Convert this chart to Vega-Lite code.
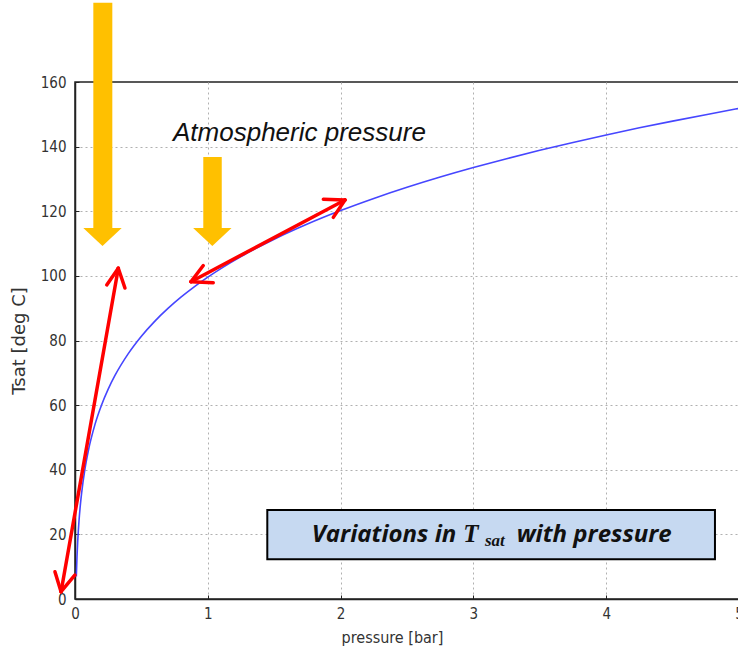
{
  "$schema": "https://vega.github.io/schema/vega-lite/v6.json",
  "width": 664,
  "height": 517,
  "autosize": {"type": "none"},
  "padding": {"left": 75, "top": 82, "right": 0, "bottom": 50},
  "background": "white",
  "config": {
    "view": {"stroke": "#222", "strokeWidth": 1.5},
    "axis": {
      "domainColor": "#222",
      "domainWidth": 1.5,
      "tickColor": "#222",
      "tickSize": -4,
      "tickWidth": 1,
      "gridColor": "#b0b0b0",
      "gridDash": [2, 3],
      "gridWidth": 1,
      "labelFont": "DejaVu Sans Condensed, DejaVu Sans",
      "labelFontSize": 15,
      "labelColor": "#333",
      "titleFontWeight": "normal",
      "titleColor": "#333",
      "labelOverlap": false,
      "labelFlush": false
    },
    "axisX": {"labelPadding": 11, "titleFont": "DejaVu Sans Condensed, DejaVu Sans", "titleFontSize": 16},
    "axisY": {"labelPadding": 13, "titleFont": "DejaVu Sans", "titleFontSize": 18}
  },
  "datasets": {
    "curve": [
      {"p": 0.01, "t": 6.97}, {"p": 0.015, "t": 13.02}, {"p": 0.02, "t": 17.5}, {"p": 0.025, "t": 21.08},
      {"p": 0.03, "t": 24.08}, {"p": 0.04, "t": 28.96}, {"p": 0.05, "t": 32.87}, {"p": 0.075, "t": 40.29},
      {"p": 0.1, "t": 45.81}, {"p": 0.15, "t": 53.97}, {"p": 0.2, "t": 60.06}, {"p": 0.25, "t": 64.96},
      {"p": 0.3, "t": 69.1}, {"p": 0.4, "t": 75.86}, {"p": 0.5, "t": 81.32}, {"p": 0.6, "t": 85.93},
      {"p": 0.7, "t": 89.93}, {"p": 0.8, "t": 93.49}, {"p": 0.9, "t": 96.69}, {"p": 1.0, "t": 99.61},
      {"p": 1.25, "t": 105.97}, {"p": 1.5, "t": 111.35}, {"p": 1.75, "t": 116.04}, {"p": 2.0, "t": 120.21},
      {"p": 2.25, "t": 123.97}, {"p": 2.5, "t": 127.41}, {"p": 2.75, "t": 130.58}, {"p": 3.0, "t": 133.52},
      {"p": 3.25, "t": 136.27}, {"p": 3.5, "t": 138.86}, {"p": 3.75, "t": 141.3}, {"p": 4.0, "t": 143.61},
      {"p": 4.25, "t": 145.82}, {"p": 4.5, "t": 147.9}, {"p": 4.75, "t": 149.89}, {"p": 5.0, "t": 151.83}
    ],
    "arrows": [
      {"p": -0.105, "t": 2.26, "p2": 0.326, "t2": 102.35},
      {"p": 0.326, "t": 102.35, "p2": 0.239, "t2": 97.2},
      {"p": 0.326, "t": 102.35, "p2": 0.376, "t2": 96.25},
      {"p": -0.105, "t": 2.26, "p2": -0.151, "t2": 8.45},
      {"p": -0.105, "t": 2.26, "p2": 0.0, "t2": 7.43},
      {"p": 0.873, "t": 98.2, "p2": 2.033, "t2": 123.5},
      {"p": 0.873, "t": 98.2, "p2": 0.966, "t2": 103.2},
      {"p": 0.873, "t": 98.2, "p2": 1.041, "t2": 97.9},
      {"p": 2.033, "t": 123.5, "p2": 1.87, "t2": 123.7},
      {"p": 2.033, "t": 123.5, "p2": 1.945, "t2": 118.1}
    ],
    "shafts": [
      {"p": 0.138, "p2": 0.281, "t": 184.5, "t2": 114.0},
      {"p": 0.966, "p2": 1.105, "t": 136.8, "t2": 114.0}
    ],
    "heads": [
      {"p": 0.207, "t": 112.04},
      {"p": 1.034, "t": 112.04}
    ],
    "box": [
      {"p": 1.448, "p2": 4.819, "t": 12.29, "t2": 27.55}
    ],
    "labels": [
      {"id": "atm", "p": 0.738, "t": 141.84, "label": "Atmospheric pressure"},
      {"id": "var", "p": 1.782, "t": 17.73, "label": "Variations in"},
      {"id": "T", "p": 2.924, "t": 17.73, "label": "T"},
      {"id": "sat", "p": 3.087, "t": 16.4, "label": "sat"},
      {"id": "with", "p": 3.326, "t": 17.73, "label": "with pressure"}
    ]
  },
  "encoding": {
    "x": {
      "field": "p", "type": "quantitative",
      "scale": {"domain": [0, 5], "nice": false, "zero": false},
      "axis": {
        "values": [0, 1, 2, 3, 4, 5], "title": "pressure [bar]", "titleX": 317, "titleY": 43, "titleBaseline": "alphabetic",
        "gridOpacity": {"condition": {"test": "datum.value == 0 || datum.value == 5", "value": 0}, "value": 1}
      }
    },
    "y": {
      "field": "t", "type": "quantitative",
      "scale": {"domain": [0, 160], "nice": false},
      "axis": {
        "values": [0, 20, 40, 60, 80, 100, 120, 140, 160], "title": "Tsat [deg C]", "titleX": -47, "titleY": 258.5,
        "gridOpacity": {"condition": {"test": "datum.value == 0 || datum.value == 160", "value": 0}, "value": 1}
      }
    }
  },
  "layer": [
    {
      "data": {"name": "curve"},
      "mark": {"type": "line", "color": "#4646ff", "strokeWidth": 1.6, "interpolate": "monotone"}
    },
    {
      "data": {"name": "arrows"},
      "mark": {"type": "rule", "color": "#ff0000", "strokeWidth": 3.5, "strokeCap": "round"},
      "encoding": {"x2": {"field": "p2"}, "y2": {"field": "t2"}}
    },
    {
      "data": {"name": "shafts"},
      "mark": {"type": "rect", "color": "#FFC000", "opacity": 1},
      "encoding": {"x2": {"field": "p2"}, "y2": {"field": "t2"}}
    },
    {
      "data": {"name": "heads"},
      "mark": {"type": "point", "shape": "M -1 -0.47 L 1 -0.47 L 0 0.47 Z", "filled": true, "fill": "#FFC000", "strokeWidth": 0, "opacity": 1, "size": 1475}
    },
    {
      "data": {"name": "box"},
      "mark": {"type": "rect", "fill": "#C6D9F1", "stroke": "#000", "strokeWidth": 2, "opacity": 1},
      "encoding": {"x2": {"field": "p2"}, "y2": {"field": "t2"}}
    },
    {
      "data": {"name": "labels"},
      "transform": [{"filter": "datum.id == 'atm'"}],
      "mark": {"type": "text", "align": "left", "baseline": "alphabetic", "font": "Liberation Sans", "fontStyle": "italic", "fontSize": 26, "color": "#111"},
      "encoding": {"text": {"field": "label"}}
    },
    {
      "data": {"name": "labels"},
      "transform": [{"filter": "datum.id == 'var' || datum.id == 'with'"}],
      "mark": {"type": "text", "align": "left", "baseline": "alphabetic", "font": "Open Sans", "fontStyle": "italic", "fontWeight": "bold", "fontSize": 24, "color": "#111"},
      "encoding": {"text": {"field": "label"}}
    },
    {
      "data": {"name": "labels"},
      "transform": [{"filter": "datum.id == 'T'"}],
      "mark": {"type": "text", "align": "left", "baseline": "alphabetic", "font": "Liberation Serif", "fontStyle": "italic", "fontWeight": "bold", "fontSize": 25, "color": "#111"},
      "encoding": {"text": {"field": "label"}}
    },
    {
      "data": {"name": "labels"},
      "transform": [{"filter": "datum.id == 'sat'"}],
      "mark": {"type": "text", "align": "left", "baseline": "alphabetic", "font": "Liberation Serif", "fontStyle": "italic", "fontWeight": "bold", "fontSize": 17, "color": "#111"},
      "encoding": {"text": {"field": "label"}}
    }
  ]
}
